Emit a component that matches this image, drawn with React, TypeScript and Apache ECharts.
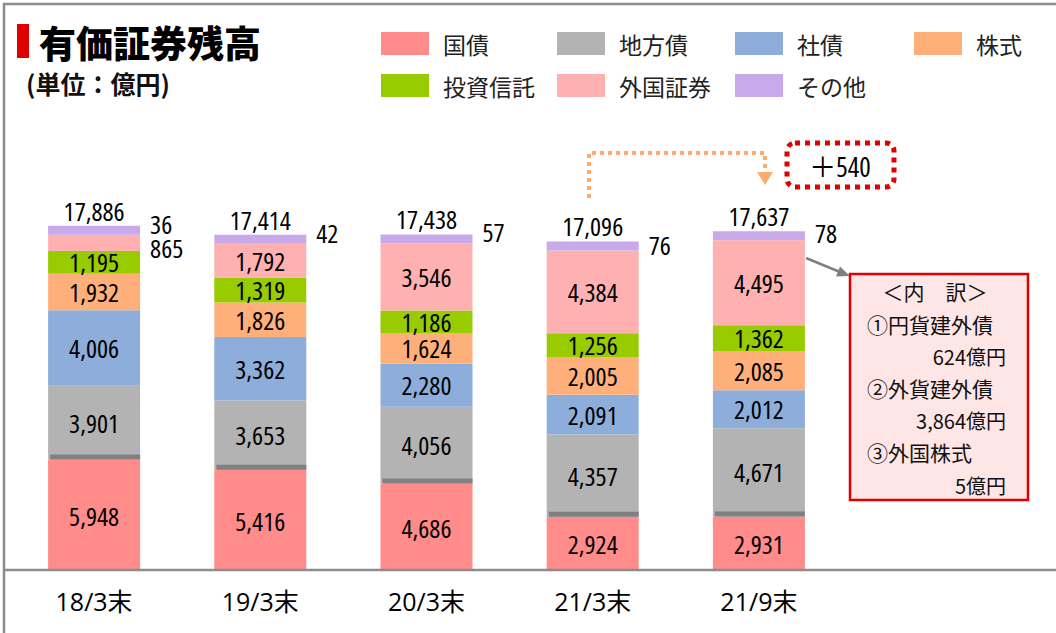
import React, { useEffect, useRef } from "react";
import * as echarts from "echarts";

const categories = ["18/3末", "19/3末", "20/3末", "21/3末", "21/9末"];
const kokusai = [5948, 5416, 4686, 2924, 2931];
const chihousai = [3901, 3653, 4056, 4357, 4671];
const shasai = [4006, 3362, 2280, 2091, 2012];
const kabushiki = [1932, 1826, 1624, 2005, 2085];
const toushin = [1195, 1319, 1186, 1256, 1362];
const gaikoku = [865, 1792, 3546, 4384, 4495];
const sonota = [36, 42, 57, 76, 78];
const totals = [17886, 17414, 17438, 17096, 17637];

const seriesNames = ["国債", "地方債", "社債", "株式", "投資信託", "外国証券", "その他"];
const colors = ["#FF8B8B", "#B3B3B3", "#8DADDB", "#FFB07A", "#99CC00", "#FFB1B1", "#C8A9E9"];
const breakdown = ["＜内　訳＞", "①円貨建外債", "624億円", "②外貨建外債", "3,864億円", "③外国株式", "5億円"];
const diffLabel = "＋540";

const NUM_FONT = "'Open Sans', 'Noto Sans CJK JP', sans-serif";
const NUM_W = "normal;font-stretch:semi-condensed";
const JP_FONT = "'Noto Sans CJK JP', sans-serif";
const fmt = (v: number) => v.toLocaleString("en-US");
const otherOffsets = [-6, -6, -7, -1, -3];

export default function App() {
  const ref = useRef<HTMLDivElement>(null);
  useEffect(() => {
    if (!ref.current) return;
    const chart = echarts.init(ref.current, null, { renderer: "svg" });
    const values = [kokusai, chihousai, shasai, kabushiki, toushin, gaikoku, sonota];
    const barSeries = values.map((arr, si) => ({
      type: "bar",
      name: seriesNames[si],
      stack: "total",
      barWidth: 92,
      barMinHeight: si === 6 ? 9 : 0,
      itemStyle: { color: colors[si] },
      data: arr.map((v, i) => {
        const item: any = { value: v };
        if (si === 6) {
          item.label = {
            show: true,
            position: "right",
            distance: 10,
            offset: [0, otherOffsets[i]],
          };
        } else if (si === 5 && i === 0) {
          item.label = { show: true, position: "right", distance: 10, offset: [0, 5] };
        }
        return item;
      }),
      label: {
        show: si !== 6,
        position: "inside",
        color: "#000",
        fontSize: 26,
        lineHeight: 22,
        fontFamily: NUM_FONT,
        fontWeight: NUM_W,
        formatter: (p: any) => fmt(p.value),
      },
      emphasis: { disabled: true },
    }));

    const legendPos = [
      [381, 32], [557, 32], [735, 32], [914, 32],
      [381, 74], [557, 74], [735, 74],
    ];
    const legends = seriesNames.map((n, i) => ({
      data: [n],
      left: legendPos[i][0],
      top: legendPos[i][1],
      padding: 0,
      itemWidth: 48,
      itemHeight: 23,
      icon: "rect",
      selectedMode: false,
      textStyle: { fontSize: 23, color: "#222", fontFamily: JP_FONT, padding: [0, 0, 0, 9] },
    }));

    const gray = "#8C8C8C";
    const red = "#E00000";
    const orange = "#FFAA6E";

    chart.setOption({
      animation: false,
      legend: legends,
      grid: { left: 11, right: 214, top: 194, bottom: 61 },
      xAxis: {
        type: "category",
        data: categories,
        axisLine: { show: false },
        axisTick: { show: false },
        axisLabel: { fontSize: 25, color: "#000", fontFamily: NUM_FONT, margin: 16 },
      },
      yAxis: { type: "value", min: 0, max: 20000, show: false, splitLine: { show: false } },
      series: [
        ...barSeries,
        {
          type: "custom",
          name: "sep",
          z: 5,
          renderItem: (params: any, api: any) => {
            const p = api.coord([api.value(0), api.value(1)]);
            return {
              type: "rect",
              shape: { x: p[0] - 44, y: p[1] - 5, width: 90, height: 5 },
              style: { fill: "#808080" },
            };
          },
          encode: { x: 0, y: 1 },
          data: kokusai.map((v, i) => [i, v]),
        },
        {
          type: "scatter",
          name: "合計",
          symbolSize: 0,
          itemStyle: { color: "#000", opacity: 1 },
          data: totals,
          label: {
            show: true,
            position: "top",
            distance: 4,
            offset: [0, -8],
            color: "#000",
            fontSize: 26,
            lineHeight: 22,
            fontFamily: NUM_FONT,
            fontWeight: NUM_W,
            formatter: (p: any) => fmt(p.value),
          },
          emphasis: { disabled: true },
        },
      ],
      graphic: [
        { type: "rect", z: 100, shape: { x: 5, y: 571, width: 1051, height: 10 }, style: { fill: "#fff" } },
        { type: "line", z: 101, shape: { x1: 3, y1: 4, x2: 1056, y2: 4 }, style: { stroke: gray, lineWidth: 2.5 } },
        { type: "line", z: 101, shape: { x1: 4, y1: 3, x2: 4, y2: 633 }, style: { stroke: gray, lineWidth: 2.5 } },
        { type: "line", z: 101, shape: { x1: 4, y1: 570, x2: 1056, y2: 570 }, style: { stroke: gray, lineWidth: 2.5 } },
        { type: "rect", shape: { x: 17, y: 24, width: 12, height: 34 }, style: { fill: "#E00000" } },
        {
          type: "text", x: 39, y: 42,
          style: { text: "有価証券残高", fontSize: 37, fontWeight: 900, fill: "#000", fontFamily: JP_FONT, verticalAlign: "middle" },
        },
        {
          type: "text", x: 26, y: 83,
          style: { text: "(単位：億円)", fontSize: 25, fontWeight: "bold", fill: "#111", fontFamily: JP_FONT, verticalAlign: "middle" },
        },
        {
          type: "polyline",
          shape: { points: [[589, 198], [589, 153], [765, 153], [765, 172]] },
          style: { stroke: orange, lineWidth: 4, lineDash: [4, 4], fill: null },
        },
        { type: "polygon", shape: { points: [[757, 172], [773, 172], [765, 185]] }, style: { fill: orange } },
        {
          type: "rect",
          shape: { x: 787, y: 143, width: 107, height: 44, r: 8 },
          style: { stroke: red, lineWidth: 5, lineDash: [5, 5], fill: "#fff" },
        },
        {
          type: "text", x: 840, y: 166,
          style: { text: diffLabel, fontSize: 27, fill: "#000", fontFamily: NUM_FONT, fontWeight: NUM_W, align: "center", verticalAlign: "middle" },
        },
        { type: "line", shape: { x1: 806, y1: 258, x2: 840, y2: 272 }, style: { stroke: "#808080", lineWidth: 2.5 } },
        { type: "polygon", shape: { points: [[850, 276], [836, 276.5], [840, 266.5]] }, style: { fill: "#808080" } },
        {
          type: "rect",
          shape: { x: 850, y: 274, width: 178, height: 226 },
          style: { fill: "#FFE6E6", stroke: red, lineWidth: 2.5 },
        },
        { type: "text", x: 935, y: 291, style: { text: breakdown[0], fontSize: 21, fill: "#111", fontFamily: JP_FONT, align: "center", verticalAlign: "middle" } },
        { type: "text", x: 867, y: 324, style: { text: breakdown[1], fontSize: 21, fill: "#111", fontFamily: JP_FONT, verticalAlign: "middle" } },
        { type: "text", x: 1006, y: 356, style: { text: breakdown[2], fontSize: 20, fill: "#111", fontFamily: JP_FONT, align: "right", verticalAlign: "middle" } },
        { type: "text", x: 867, y: 388, style: { text: breakdown[3], fontSize: 21, fill: "#111", fontFamily: JP_FONT, verticalAlign: "middle" } },
        { type: "text", x: 1006, y: 420, style: { text: breakdown[4], fontSize: 20, fill: "#111", fontFamily: JP_FONT, align: "right", verticalAlign: "middle" } },
        { type: "text", x: 867, y: 452, style: { text: breakdown[5], fontSize: 21, fill: "#111", fontFamily: JP_FONT, verticalAlign: "middle" } },
        { type: "text", x: 1006, y: 485, style: { text: breakdown[6], fontSize: 20, fill: "#111", fontFamily: JP_FONT, align: "right", verticalAlign: "middle" } },
      ],
    });
    return () => chart.dispose();
  }, []);
  return (
    <div
      ref={ref}
      style={{ position: "absolute", left: 0, top: 0, width: 1056, height: 633, background: "#fff" }}
    />
  );
}
